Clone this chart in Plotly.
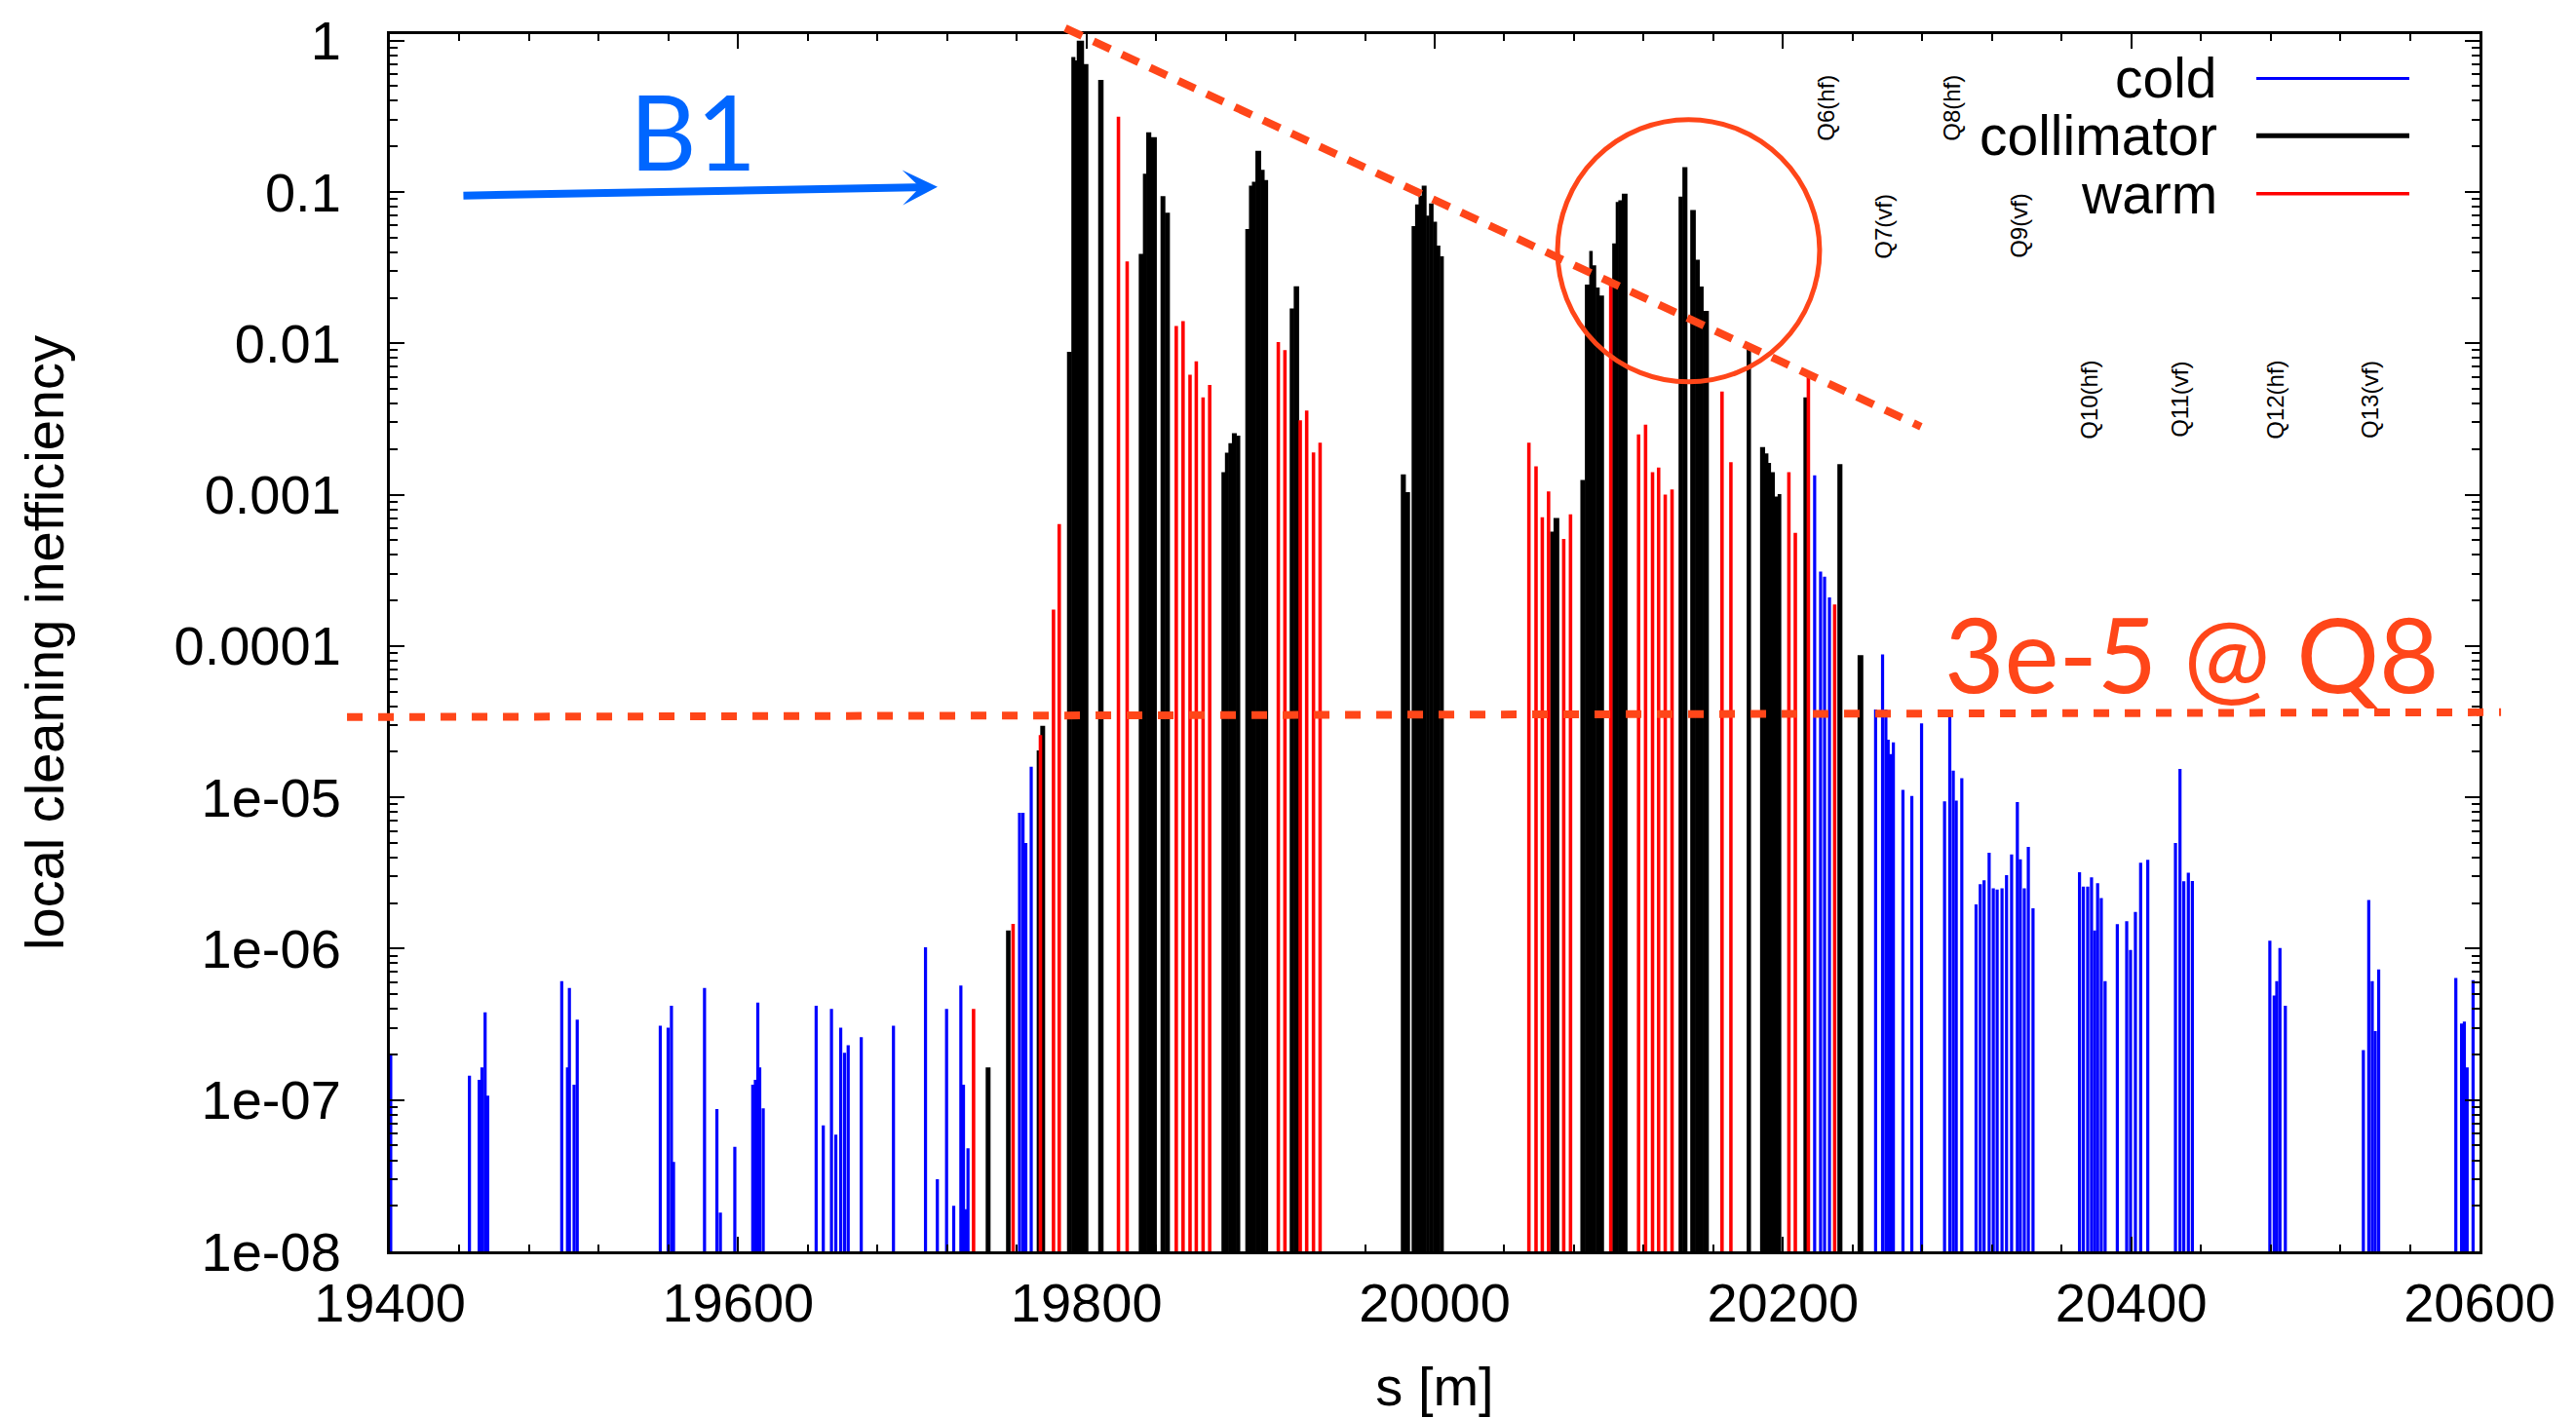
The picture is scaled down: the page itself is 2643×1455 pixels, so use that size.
import plotly.graph_objects as go

# ---------------- data ----------------
# cold elements (blue impulses): position s [m] and local cleaning inefficiency
cold_s = [
    19400.5,
    19445.7, 19451.3, 19452.9, 19454.7, 19456.2,
    19498.7, 19502.0, 19503.1, 19505.8, 19507.6,
    19555.3, 19559.8, 19561.7, 19562.9, 19580.7, 19587.8, 19589.8, 19598.1,
    19608.4, 19609.9, 19611.3, 19612.4, 19614.4,
    19644.8, 19648.9, 19653.6, 19656.1, 19658.9, 19661.1, 19663.2, 19670.7, 19689.2,
    19707.6, 19714.4, 19719.7, 19723.8, 19727.9, 19729.4, 19731.0, 19732.0,
    19761.6, 19763.6, 19765.2, 19768.3,
    20218.2, 20221.6, 20223.9, 20226.7,
    20253.2, 20257.2, 20259.1, 20260.4, 20261.6, 20263.4, 20268.9, 20274.0, 20279.6,
    20292.8, 20295.8, 20297.8, 20299.5, 20302.7,
    20310.9, 20313.3, 20315.5, 20318.4, 20320.8, 20323.0, 20325.8, 20328.4, 20331.3,
    20334.6, 20336.3, 20338.6, 20340.9, 20343.6,
    20370.3, 20372.5, 20375.0, 20377.2, 20379.0, 20380.7, 20382.8, 20385.0,
    20392.0, 20397.4, 20399.6, 20402.4, 20405.4, 20409.5,
    20425.4, 20428.0, 20430.2, 20432.8, 20435.1,
    20479.6, 20482.1, 20483.6, 20485.4, 20488.5,
    20533.3, 20536.4, 20538.4, 20540.1, 20542.1,
    20586.4, 20589.7, 20591.3, 20592.9, 20596.3,
]
cold_val = [
    2.0e-7,
    1.45e-7, 1.36e-7, 1.64e-7, 3.8e-7, 1.07e-7,
    6.1e-7, 1.64e-7, 5.5e-7, 1.26e-7, 3.4e-7,
    3.1e-7, 3.0e-7, 4.2e-7, 3.9e-8, 5.5e-7, 8.7e-8, 1.8e-8, 4.9e-8,
    1.26e-7, 1.36e-7, 4.4e-7, 1.64e-7, 8.8e-8,
    4.2e-7, 6.8e-8, 4.0e-7, 5.9e-8, 3.0e-7, 2.05e-7, 2.3e-7, 2.6e-7, 3.1e-7,
    1.02e-6, 3.0e-8, 4.0e-7, 2.0e-8, 5.7e-7, 1.26e-7, 1.9e-8, 4.8e-8,
    7.9e-6, 7.9e-6, 5.0e-6, 1.59e-5,
    1.34e-3, 3.1e-4, 2.87e-4, 2.09e-4,
    3.8e-5, 8.8e-5, 3.8e-5, 2.4e-5, 1.93e-5, 2.31e-5, 1.12e-5, 1.02e-5, 3.08e-5,
    9.4e-6, 3.53e-5, 1.50e-5, 9.5e-6, 1.34e-5,
    1.96e-6, 2.67e-6, 2.83e-6, 4.3e-6, 2.5e-6, 2.46e-6, 2.5e-6, 3.06e-6, 4.2e-6,
    9.3e-6, 3.9e-6, 2.5e-6, 4.7e-6, 1.85e-6,
    3.2e-6, 2.57e-6, 2.57e-6, 2.96e-6, 1.32e-6, 2.71e-6, 2.16e-6, 6.1e-7,
    1.45e-6, 1.52e-6, 9.8e-7, 1.75e-6, 3.7e-6, 3.87e-6,
    5.0e-6, 1.54e-5, 2.79e-6, 3.18e-6, 2.8e-6,
    1.13e-6, 4.9e-7, 6.1e-7, 1.01e-6, 4.2e-7,
    2.14e-7, 2.1e-6, 6.1e-7, 2.85e-7, 7.3e-7,
    6.4e-7, 3.2e-7, 3.3e-7, 1.64e-7, 6.2e-7,
]

# warm elements (red impulses)
warm_s = [
    19735.2, 19757.9, 19773.6, 19781.1, 19784.4,
    19818.4, 19823.4,
    19851.6, 19855.5, 19859.5, 19863.1, 19867.0, 19870.8,
    19910.2, 19914.0, 19922.8, 19926.5, 19930.4, 19934.2,
    20054.1, 20058.2, 20061.8, 20065.4, 20074.1, 20078.0,
    20101.1,
    20117.1, 20121.1, 20125.1, 20128.6, 20132.4, 20136.3,
    20165.0, 20170.1, 20203.4, 20207.1, 20214.6, 20229.7,
]
warm_val = [
    4.0e-7, 1.46e-6, 2.58e-5, 1.74e-4, 6.4e-4,
    0.314, 0.0348,
    0.0130, 0.0140, 6.2e-3, 7.6e-3, 4.4e-3, 5.3e-3,
    0.0102, 9.0e-3, 3.1e-3, 3.6e-3, 1.9e-3, 2.2e-3,
    2.2e-3, 1.54e-3, 7.1e-4, 1.05e-3, 5.1e-4, 7.4e-4,
    0.0247,
    2.5e-3, 2.9e-3, 1.41e-3, 1.51e-3, 1.0e-3, 1.08e-3,
    4.8e-3, 1.64e-3, 1.41e-3, 5.6e-4, 6.2e-3, 1.88e-4,
]

# collimators (black boxes): centre s [m], length [m], inefficiency
coll_s = [
    19743.55, 19755.15, 19772.45, 19774.9,
    19790.25, 19792.5, 19794.05, 19796.55, 19799.75,
    19808.3,
    19831.4, 19833.55, 19835.8, 19838.7,
    19843.95, 19846.5,
    19878.7, 19880.7, 19882.7, 19884.95, 19887.2,
    19892.45, 19894.35, 19896.2, 19898.7, 19901.2, 19903.2,
    19918.05, 19920.6,
    19982.0, 19984.5,
    19987.9, 19989.9, 19991.8, 19993.95, 19996.05, 19998.05, 20000.2, 20002.15, 20004.1,
    20067.4, 20069.9,
    20085.1, 20087.65, 20089.75, 20091.6, 20093.6, 20095.85,
    20103.1, 20104.85, 20106.6, 20109.1,
    20141.3, 20143.7, 20148.35, 20150.95, 20153.2, 20155.8,
    20180.4,
    20188.3, 20190.55, 20192.25, 20194.1, 20196.15, 20198.0,
    20213.2, 20232.7, 20244.5,
]
coll_len = [
    2.5, 2.3, 1.7, 2.5,
    2.5, 2.0, 1.1, 3.9, 2.5,
    2.8,
    2.4, 1.9, 2.6, 3.2,
    2.5, 2.6,
    2.0, 2.0, 2.0, 2.5, 2.0,
    2.1, 1.7, 2.0, 3.0, 2.0, 2.0,
    2.3, 2.8,
    2.6, 2.4,
    2.0, 2.0, 1.8, 2.5, 1.7, 2.3, 2.0, 1.9, 2.0,
    2.0, 3.0,
    2.6, 2.5, 1.7, 2.0, 2.0, 2.5,
    2.0, 1.5, 2.0, 3.0,
    2.2, 2.6, 2.9, 2.3, 2.2, 3.0,
    2.2,
    2.6, 1.9, 1.5, 2.2, 1.9, 1.8,
    2.6, 2.6, 3.0,
]
coll_val = [
    1.64e-7, 1.32e-6, 2.04e-5, 2.97e-5,
    8.8e-3, 0.78, 0.74, 1.0, 0.70,
    0.55,
    0.039, 0.132, 0.248, 0.23,
    0.094, 0.073,
    1.41e-3, 1.89e-3, 2.19e-3, 2.55e-3, 2.45e-3,
    0.057, 0.110, 0.117, 0.187, 0.140, 0.120,
    0.017, 0.0238,
    1.36e-3, 1.04e-3,
    0.0594, 0.0828, 0.0946, 0.110, 0.0697, 0.084, 0.0637, 0.0442, 0.0375,
    5.7e-4, 7.0e-4,
    1.25e-3, 0.0244, 0.0408, 0.0327, 0.0234, 0.0207,
    0.0457, 0.086, 0.088, 0.0975,
    0.093, 0.146, 0.076, 0.0357, 0.0237, 0.0164,
    9.2e-3,
    2.06e-3, 1.87e-3, 1.62e-3, 1.41e-3, 9.7e-4, 1.01e-3,
    4.4e-3, 1.59e-3, 8.7e-5,
]

x_ticks = [19400, 19600, 19800, 20000, 20200, 20400, 20600]
x_ticktext = ["19400", "19600", "19800", "20000", "20200", "20400", "20600"]
y_ticks = [1e-8, 1e-7, 1e-6, 1e-5, 1e-4, 1e-3, 1e-2, 1e-1, 1]
y_ticktext = ["1e-08", "1e-07", "1e-06", "1e-05", "0.0001", "0.001", "0.01", "0.1", "1"]
legend_names = ["cold", "collimator", "warm"]
quad_labels = ["Q6(hf)", "Q7(vf)", "Q8(hf)", "Q9(vf)", "Q10(hf)", "Q11(vf)", "Q12(hf)", "Q13(vf)"]

# ---------------- styling ----------------
BLUE = "#0000FF"
RED = "#FF0000"
ORANGE = "#FF4619"
ARROW_BLUE = "#0066FF"
FONT = "Liberation Sans, Arial, Helvetica, sans-serif"

fig = go.Figure()
fig.add_trace(go.Bar(x=coll_s, y=coll_val, width=[w + 0.3 for w in coll_len], name="collimator",
                     marker=dict(color="black", line=dict(width=0))))
fig.add_trace(go.Bar(x=cold_s, y=cold_val, width=1.8, name="cold",
                     marker=dict(color=BLUE, line=dict(width=0))))
fig.add_trace(go.Bar(x=warm_s, y=warm_val, width=2.0, name="warm",
                     marker=dict(color=RED, line=dict(width=0))))

minor_y = [k * 10.0 ** e for e in range(-8, 0) for k in range(2, 10)]

fig.update_layout(
    template="none",
    width=2643, height=1455,
    margin=dict(l=392, r=107, t=27, b=179),
    paper_bgcolor="white", plot_bgcolor="white",
    barmode="overlay", showlegend=False,
    font=dict(family=FONT, size=56, color="black"),
)

fig.update_xaxes(
    range=[19400, 20600], tickmode="array", tickvals=x_ticks, ticktext=x_ticktext,
    ticks="inside", ticklen=15, tickwidth=2, tickcolor="black",
    showline=True, linecolor="black", linewidth=3, mirror="ticks",
    showgrid=False, zeroline=False, automargin=False,
    tickfont=dict(size=56, family=FONT), ticklabelstandoff=2, ticklabeloverflow="allow",
    minor=dict(tickmode="linear", tick0=19400, dtick=40, ticks="inside",
               ticklen=7, tickwidth=2, tickcolor="black", showgrid=False),
    title=dict(text="s [m]", font=dict(size=56, family=FONT), standoff=36),
)
fig.update_yaxes(
    type="log", range=[-8, 0.043], tickmode="array", tickvals=y_ticks, ticktext=y_ticktext,
    ticks="inside", ticklen=15, tickwidth=2, tickcolor="black",
    showline=True, linecolor="black", linewidth=3, mirror="ticks",
    showgrid=False, zeroline=False, automargin=False,
    tickfont=dict(size=56, family=FONT), ticklabelstandoff=36,
    ticklabeloverflow="allow",
    minor=dict(tickmode="array", tickvals=minor_y, ticks="inside",
               ticklen=8, tickwidth=2, tickcolor="black", showgrid=False),
    title=dict(text="local cleaning inefficiency", font=dict(size=56, family=FONT), standoff=95),
)

# ---------------- legend (text left of line sample) ----------------
leg_y = [0.9636, 0.9165, 0.8689]
leg_col = [BLUE, "black", RED]
leg_w = [3, 5, 3.5]
for name, yy, col, lw in zip(legend_names, leg_y, leg_col, leg_w):
    fig.add_annotation(x=0.8755, y=yy, xref="paper", yref="paper", text=name,
                       showarrow=False, xanchor="right", yanchor="middle",
                       font=dict(size=57, family=FONT, color="black"))
    fig.add_shape(type="line", xref="paper", yref="paper", x0=0.8932, x1=0.9664,
                  y0=yy, y1=yy, line=dict(color=col, width=lw))

# ---------------- quadrupole labels ----------------
quad_pos = [(0.6875, 0.9394), (0.7150, 0.8425), (0.7477, 0.9394), (0.7799, 0.8425),
            (0.8134, 0.6999), (0.8568, 0.6999), (0.9025, 0.6999), (0.9478, 0.6999)]
for lab, (qx, qy) in zip(quad_labels, quad_pos):
    fig.add_annotation(x=qx, y=qy, xref="paper", yref="paper", text=lab, textangle=-90,
                       showarrow=False, xanchor="center", yanchor="middle",
                       font=dict(size=24, family=FONT, color="black"))

# ---------------- overlays ----------------
# horizontal dashed threshold line
fig.add_shape(type="line", xref="paper", yref="paper", x0=-0.0205, x1=1.0103, y0=0.4389, y1=0.4429,
              line=dict(color=ORANGE, width=8, dash="16px,16px"))
# sloped dashed envelope line
fig.add_shape(type="line", xref="paper", yref="paper", x0=0.3232, y0=1.0050, x1=0.7327, y1=0.6775,
              line=dict(color=ORANGE, width=8, dash="19px,13px"))
# circle
fig.add_shape(type="circle", xref="paper", yref="paper", x0=0.5588, x1=0.6842, y0=0.7143, y1=0.9298,
              line=dict(color=ORANGE, width=5))
fig.add_annotation(x=0.8624, y=0.4917, xref="paper", yref="paper", text="3e-5 @ Q8",
                   showarrow=False, xanchor="center", yanchor="middle",
                   font=dict(size=106, family="Lato, Open Sans, sans-serif", color=ORANGE))
# beam direction
fig.add_annotation(x=0.2621, y=0.8745, xref="paper", yref="paper", text="",
                   showarrow=True, ax=-488, ay=9, arrowhead=3, arrowsize=0.75,
                   arrowwidth=8, arrowcolor=ARROW_BLUE)
fig.add_annotation(x=0.1451, y=0.9210, xref="paper", yref="paper", text="B1",
                   showarrow=False, xanchor="center", yanchor="middle",
                   font=dict(size=106, family="Lato, Open Sans, sans-serif", color=ARROW_BLUE))

fig.write_html("out.html")
